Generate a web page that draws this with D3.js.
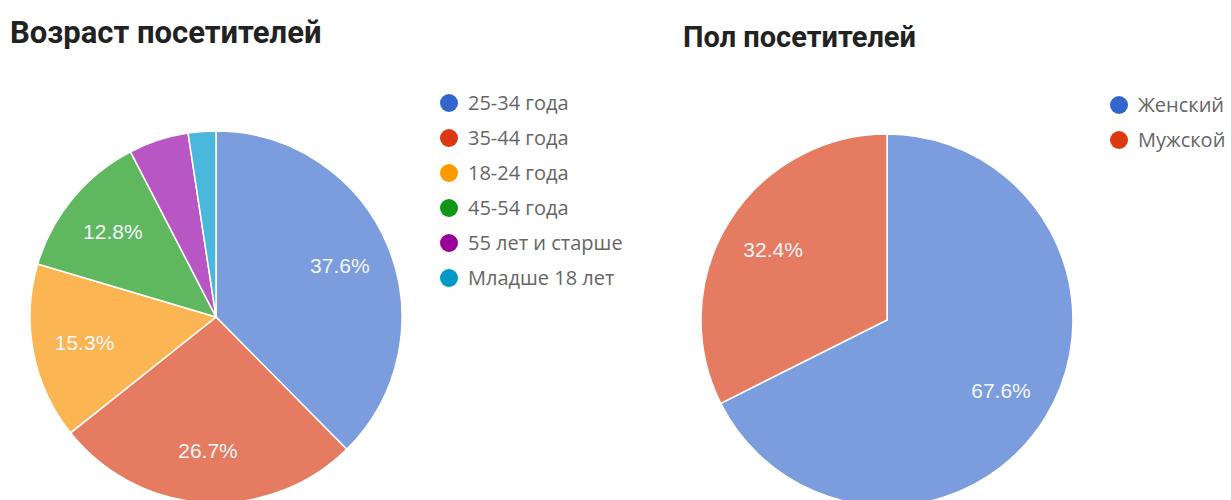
<!DOCTYPE html>
<html>
<head>
<meta charset="utf-8">
<script src="https://cdn.jsdelivr.net/npm/d3@7"></script>
<style>
    body { margin: 0; background: #fff; }
    svg { display: block; }
</style>
</head>
<body>
<div id="container"></div>
<script>
// Age chart data
const ageLabels = ["25-34 года", "35-44 года", "18-24 года", "45-54 года", "55 лет и старше", "Младше 18 лет"];
const ageValues = [37.6, 26.7, 15.3, 12.8, 5.2, 2.4];

// Gender chart data
const genderLabels = ["Женский", "Мужской"];
const genderValues = [67.6, 32.4];

// slice fills are faded, legend markers saturated
const sliceColors = ["#7b9cdd", "#e57b60", "#fbb552", "#5fb85f", "#b857c3", "#4cb7dc"];
const markerColors = ["#3366cc", "#dc3912", "#ff9900", "#109618", "#990099", "#0099c6"];

const width = 1231;
const height = 500;

const svg = d3.select("#container").append("svg")
    .attr("width", width)
    .attr("height", height);

function drawPie(opts) {
    const data = opts.labels.map((l, i) => ({ label: l, value: opts.values[i], i: i }));

    svg.append("text")
        .attr("x", opts.titleX)
        .attr("y", opts.titleY)
        .text(opts.title)
        .style("font-family", "Roboto, sans-serif")
        .style("font-weight", "bold")
        .style("font-size", opts.titleSize + "px")
        .style("fill", "#222");

    const pie = d3.pie().sort(null).value(d => d.value);
    const arc = d3.arc().innerRadius(0).outerRadius(opts.r);
    const labelArc = d3.arc().innerRadius(opts.r * 0.72).outerRadius(opts.r * 0.72);

    const g = svg.append("g")
        .attr("transform", `translate(${opts.cx},${opts.cy})`);

    const arcs = pie(data);

    g.selectAll("path")
        .data(arcs)
        .enter()
        .append("path")
            .attr("d", arc)
            .attr("fill", d => sliceColors[d.data.i])
            .attr("stroke", "#fff")
            .attr("stroke-width", 1.5);

    // only label slices big enough
    g.selectAll(".slice-label")
        .data(arcs.filter(d => d.data.value > 10))
        .enter()
        .append("text")
            .attr("class", "slice-label")
            .attr("transform", d => `translate(${labelArc.centroid(d)})`)
            .attr("text-anchor", "middle")
            .attr("dy", "0.35em")
            .text(d => d.data.value.toFixed(1) + "%")
            .style("font-family", "'Liberation Sans', Arial, sans-serif")
            .style("font-size", "21px")
            .style("fill", "#f4f6fb");

    // legend
    const legend = svg.selectAll(".legend-" + opts.key)
        .data(data)
        .enter()
        .append("g")
            .attr("class", "legend-" + opts.key)
            .attr("transform", (d, i) => `translate(${opts.legendX},${opts.legendY + i * 35})`);

    legend.append("circle")
        .attr("r", 9)
        .style("fill", d => markerColors[d.i]);

    legend.append("text")
        .attr("x", 19)
        .attr("y", 0)
        .attr("dy", "0.35em")
        .text(d => d.label)
        .style("font-family", "'Open Sans', 'Noto Sans', sans-serif")
        .style("font-size", "20px")
        .style("fill", "#666");
}

drawPie({
    key: "age",
    title: "Возраст посетителей",
    titleX: 10, titleY: 43, titleSize: 31,
    labels: ageLabels, values: ageValues,
    cx: 216, cy: 317, r: 186,
    legendX: 449, legendY: 103
});

drawPie({
    key: "gender",
    title: "Пол посетителей",
    titleX: 683, titleY: 47, titleSize: 29,
    labels: genderLabels, values: genderValues,
    cx: 887, cy: 320, r: 186,
    legendX: 1119, legendY: 105
});
</script>
</body>
</html>
